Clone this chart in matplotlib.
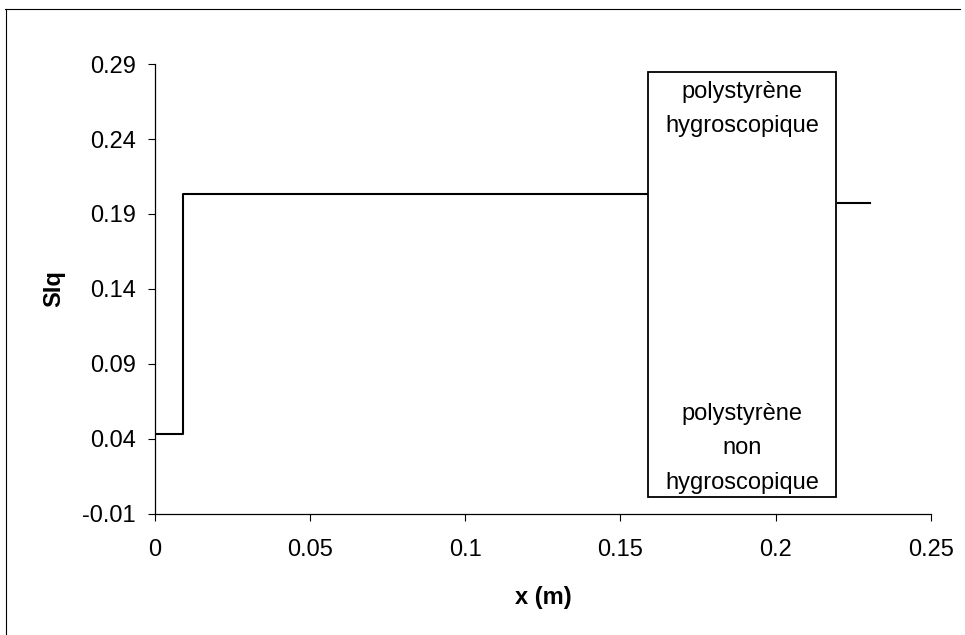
import matplotlib
matplotlib.use("Agg")
import matplotlib.pyplot as plt
import matplotlib.patches as patches
from matplotlib.lines import Line2D

plt.rcParams["font.family"] = ["Liberation Sans", "DejaVu Sans"]

# profil SIq (palier) avant et apres le polystyrene
x_step = [0.0, 0.009, 0.009, 0.159]
siq_step = [0.043, 0.043, 0.203, 0.203]
x_right = [0.2202, 0.2303]
siq_right = [0.197, 0.197]

# zone polystyrene
box_x = [0.159, 0.2196]
box_y = [0.0013, 0.2847]
label_top = "polystyrène\nhygroscopique"
label_bottom = "polystyrène\nnon\nhygroscopique"

xticks = [0, 0.05, 0.1, 0.15, 0.2, 0.25]
xticklabels = ["0", "0.05", "0.1", "0.15", "0.2", "0.25"]
yticks = [-0.01, 0.04, 0.09, 0.14, 0.19, 0.24, 0.29]
yticklabels = ["-0.01", "0.04", "0.09", "0.14", "0.19", "0.24", "0.29"]

fs = 17

fig = plt.figure(figsize=(9.65, 6.35), dpi=100)
ax = fig.add_axes([0.1606, 0.1906, 0.8039, 0.7086])

ax.plot(x_step, siq_step, color="black", lw=1.5)
ax.plot(x_right, siq_right, color="black", lw=1.5)

ax.add_patch(patches.Rectangle((box_x[0], box_y[0]), box_x[1] - box_x[0],
                               box_y[1] - box_y[0], facecolor="white",
                               edgecolor="black", lw=1.3, zorder=3))
xc = (box_x[0] + box_x[1]) / 2
ax.text(xc, 0.2785, label_top, ha="center", va="top", fontsize=fs,
        linespacing=1.72, zorder=4)
ax.text(xc, 0.0035, label_bottom, ha="center", va="bottom", fontsize=fs,
        linespacing=1.72, zorder=4)

ax.set_xlim(0, 0.25)
ax.set_ylim(-0.01, 0.29)
ax.set_xticks(xticks)
ax.set_xticklabels(xticklabels)
ax.set_yticks(yticks)
ax.set_yticklabels(yticklabels)
ax.tick_params(labelsize=fs, length=5, width=0.8, direction="out", pad=13)
ax.tick_params(axis="y", pad=9)

for s in ["top", "right"]:
    ax.spines[s].set_visible(False)
for s in ["left", "bottom"]:
    ax.spines[s].set_linewidth(0.9)

ax.set_xlabel("x (m)", fontsize=fs, fontweight="bold", labelpad=18)
ax.set_ylabel("SIq", fontsize=fs, fontweight="bold", labelpad=12)

# cadre du graphique (haut et gauche)
fig.add_artist(Line2D([0.005, 0.995], [0.986, 0.986], color="black", lw=0.8))
fig.add_artist(Line2D([0.006, 0.006], [0.0, 0.986], color="black", lw=0.8))

fig.savefig("out.png", dpi=100)
